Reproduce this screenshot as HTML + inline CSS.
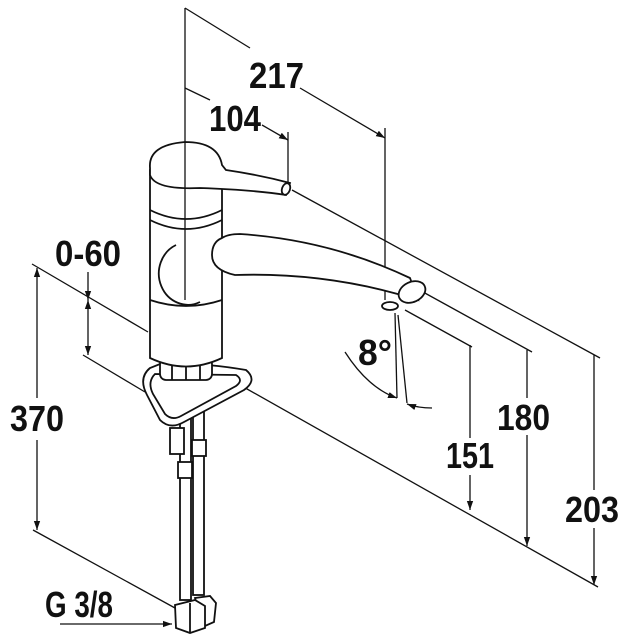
<!DOCTYPE html>
<html><head><meta charset="utf-8"><style>
html,body{margin:0;padding:0;background:#fff;}
svg{display:block}
text{font-family:"Liberation Sans Narrow","Liberation Sans",sans-serif;font-weight:bold;font-size:36px;fill:#111}
</style></head><body>
<svg width="628" height="640" viewBox="0 0 628 640" xmlns="http://www.w3.org/2000/svg">
<defs>
<marker id="a" viewBox="0 0 10 10" refX="10" refY="5" markerWidth="9" markerHeight="9" orient="auto-start-reverse" markerUnits="userSpaceOnUse"><path d="M0,1.5 L10,5 L0,8.5 Z" fill="#111"/></marker>
</defs>
<g stroke="#111" stroke-width="1.3" fill="none">
<line x1="185" y1="8" x2="185" y2="300"/>
<line x1="385" y1="128" x2="385" y2="300"/>
<line x1="288" y1="132" x2="288" y2="183"/>
<line x1="185" y1="8" x2="250" y2="48"/>
<line x1="300" y1="88" x2="385" y2="138" marker-end="url(#a)"/>
<line x1="185" y1="88" x2="210" y2="100"/>
<line x1="262" y1="125" x2="288" y2="140" marker-end="url(#a)"/>
<line x1="292" y1="190" x2="600" y2="358"/>
<line x1="423" y1="292" x2="532" y2="352"/>
<line x1="405" y1="310" x2="472" y2="347"/>
<line x1="240" y1="385" x2="598" y2="587"/>
<line x1="470" y1="345" x2="470" y2="438"/>
<line x1="470" y1="475" x2="470" y2="510" marker-end="url(#a)"/>
<line x1="527" y1="350" x2="527" y2="398"/>
<line x1="527" y1="435" x2="527" y2="546" marker-end="url(#a)"/>
<line x1="594" y1="355" x2="594" y2="490"/>
<line x1="594" y1="528" x2="594" y2="585" marker-end="url(#a)"/>
<line x1="32" y1="264" x2="148" y2="332"/>
<line x1="37" y1="398" x2="37" y2="268" marker-end="url(#a)"/>
<line x1="37" y1="440" x2="37" y2="530" marker-end="url(#a)"/>
<line x1="33" y1="530" x2="175" y2="608"/>
<line x1="88" y1="272" x2="88" y2="300" marker-end="url(#a)"/>
<line x1="88" y1="300" x2="88" y2="355" marker-end="url(#a)" marker-start="url(#a)"/>
<line x1="83" y1="355" x2="145" y2="392"/>
<line x1="60" y1="624" x2="172" y2="624" marker-end="url(#a)"/>
<line x1="395" y1="313" x2="397" y2="398"/>
<line x1="398" y1="315" x2="407" y2="403"/>
<path d="M345,352 Q368,388 397,398" marker-end="url(#a)"/>
<path d="M432,408 Q418,408 407,404" marker-end="url(#a)"/>
</g>
<g stroke="#111" stroke-width="1.8" fill="#fff">
<rect x="180" y="390" width="11" height="210"/>
<rect x="193" y="390" width="11" height="205"/>
<rect x="178" y="462" width="14" height="16"/>
<rect x="192" y="440" width="14" height="16"/>
<rect x="170" y="428" width="14" height="26"/>
<path d="M195,598 L210,596 L216,603 L214,622 L205,626 L200,615 Z"/>
<path d="M175,605 L195,600 L205,606 L205,628 L190,633 L176,628 Z"/>
<line x1="190" y1="603" x2="190" y2="632"/>
<path d="M150,368 Q138,378 147,395 L160,420 Q170,430 184,422 L244,390 Q258,380 246,370 Q200,362 160,364 Z"/>
<path d="M155,374 Q147,382 153,394 L165,414 Q172,421 181,416 L236,386 Q244,380 236,375 Z"/>
<rect x="160" y="358" width="52" height="22" rx="6"/>
<line x1="172" y1="362" x2="172" y2="380"/><line x1="186" y1="362" x2="186" y2="380"/><line x1="200" y1="362" x2="200" y2="380"/>
<path d="M150,170 L150,358 Q186,375 222,358 L222,170 Z"/>
<path d="M150,210 Q186,228 222,210"/>
<path d="M150,220 Q186,238 222,220"/>
<path d="M150,300 Q186,312 222,300" fill="none"/>
<path d="M176,245 A28,30 0 0 0 200,302" fill="none"/>
<path d="M222,238 Q228,234 240,234 Q330,240 410,278 L418,300 Q330,272 235,275 Q212,270 212,255 Q212,242 222,238 Z"/>
<ellipse cx="412" cy="292" rx="14" ry="10" transform="rotate(-25 412 292)"/>
<ellipse cx="390" cy="306" rx="8" ry="4"/>
<path d="M150,168 Q148,145 185,142 Q218,142 222,165 L226,170 Q260,175 290,183 L286,195 Q255,190 200,188 Q155,190 150,175 Z"/>
<ellipse cx="286" cy="189" rx="4" ry="6" transform="rotate(20 286 189)"/>
</g>
<line x1="185" y1="142" x2="185" y2="300" stroke="#111" stroke-width="1.3"/>
<text x="249" y="88" textLength="55" lengthAdjust="spacingAndGlyphs">217</text>
<text x="209" y="131" textLength="52" lengthAdjust="spacingAndGlyphs">104</text>
<text x="55" y="266" textLength="66" lengthAdjust="spacingAndGlyphs">0-60</text>
<text x="358" y="365" textLength="34" lengthAdjust="spacingAndGlyphs">8°</text>
<text x="10" y="431" textLength="54" lengthAdjust="spacingAndGlyphs">370</text>
<text x="497" y="430" textLength="53" lengthAdjust="spacingAndGlyphs">180</text>
<text x="446" y="468" textLength="48" lengthAdjust="spacingAndGlyphs">151</text>
<text x="565" y="522" textLength="54" lengthAdjust="spacingAndGlyphs">203</text>
<text x="45" y="617" textLength="68" lengthAdjust="spacingAndGlyphs">G 3/8</text>
</svg>
</body></html>
